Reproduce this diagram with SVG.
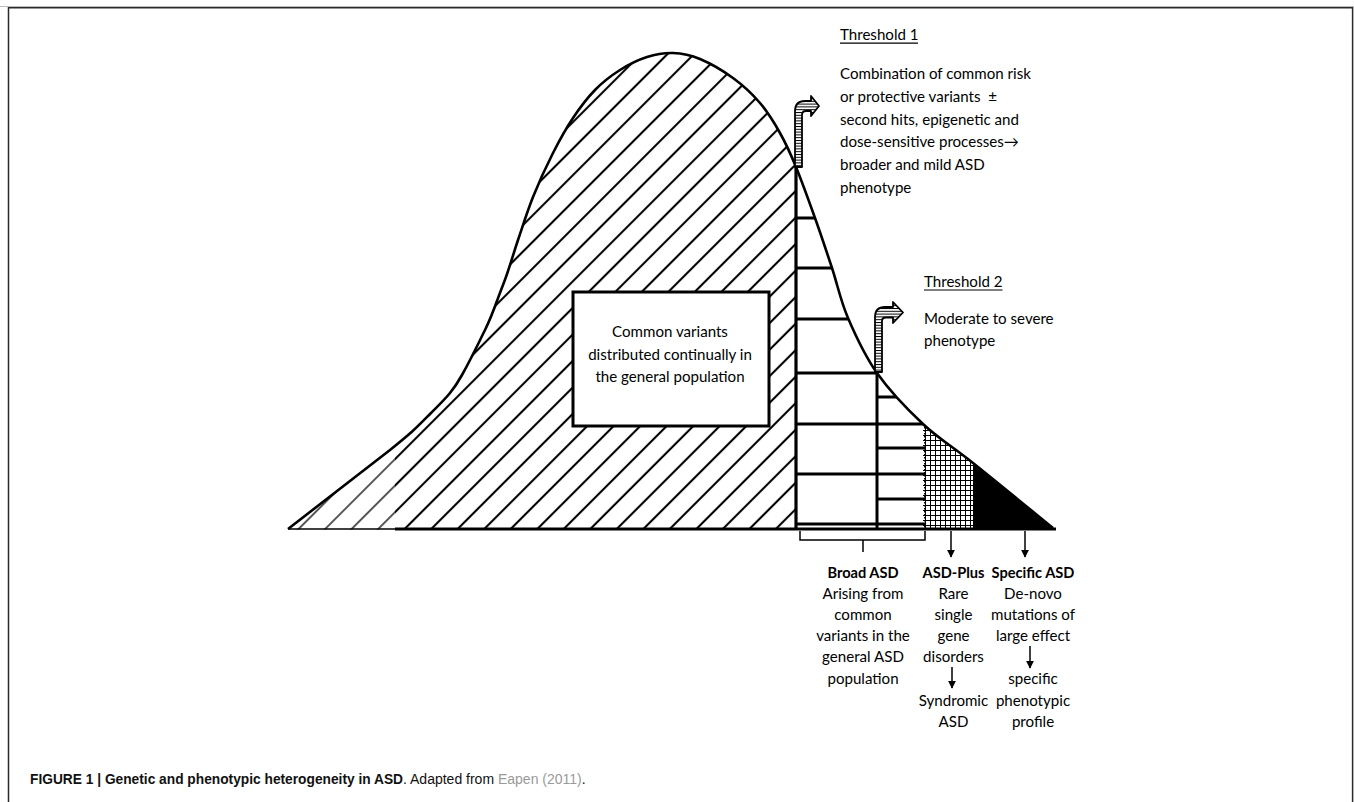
<svg xmlns="http://www.w3.org/2000/svg" width="1354" height="802" viewBox="0 0 1354 802">
<style>
.t{font-family:Lato,"Open Sans","DejaVu Sans",sans-serif;font-size:15.1px;fill:#000}
.m{text-anchor:middle}
.b{font-weight:bold;font-size:14.6px}
.ln{stroke:#000;fill:none}
.cap{font-family:"Liberation Sans",Arial,sans-serif;font-size:14px;fill:#111}
</style>
<defs>
<pattern id="hatch" patternUnits="userSpaceOnUse" width="18.75" height="18.75" patternTransform="rotate(45)">
<rect x="2.9" y="-1" width="2.1" height="21" fill="#000"/>
</pattern>
<pattern id="hatchThin" patternUnits="userSpaceOnUse" width="18.75" height="18.75" patternTransform="rotate(45)">
<rect x="3.3" y="-1" width="1.3" height="21" fill="#000"/>
</pattern>
<pattern id="grid" patternUnits="userSpaceOnUse" x="925" y="0" width="5" height="5">
<path d="M0,0.5H5M0.5,0V5" stroke="#000" stroke-width="1"/>
</pattern>
<pattern id="stripes" patternUnits="userSpaceOnUse" width="10" height="2.8">
<rect x="0" y="0" width="10" height="2.8" fill="#fff"/>
<rect x="0" y="0" width="10" height="1" fill="#000"/>
</pattern>
<clipPath id="under">
<path d="M288,529 L390,450 C413.2,431.3 415.5,428.7 430,414 C444.5,399.3 452.2,392.7 462,375 C471.8,357.3 476.8,346.5 485,330 C493.2,313.5 496.8,300.5 503,285 C509.2,269.5 513,254.7 518,240 C523,225.3 527.2,211.5 533,197 C538.8,182.5 546.3,166.2 553,153 C559.7,139.8 566,128.5 573,118 C580,107.5 587.2,98 595,90 C602.8,82 611.3,75.5 620,70 C628.7,64.5 638.2,59.8 647,57 C655.8,54.2 664.2,52.7 673,53 C681.8,53.3 690,54.8 700,59 C710,63.2 723,70.7 733,78 C743,85.3 752.2,93.8 760,103 C767.8,112.2 774,122.3 780,133 C786,143.7 790.2,152.8 796,167 C801.8,181.2 809,201.2 815,218 C821,234.8 826.5,251.3 832,268 C837.5,284.7 840.5,300.5 848,318 C855.5,335.5 864.5,355.3 877,373 C889.5,390.7 907,409 923,424 C939,439 951.3,445.7 973,463 C994.7,480.3 1039.7,517.2 1053,528 L1056,529.5 L288,529.5 Z"/>
</clipPath>
<marker id="ah" viewBox="0 0 10 10" refX="9" refY="5" markerWidth="8" markerHeight="8" markerUnits="userSpaceOnUse" orient="auto">
<path d="M0,0 L10,5 L0,10 Z" fill="#000"/>
</marker>
</defs>
<rect width="1354" height="802" fill="#fff"/>
<g id="frame">
<line x1="0" y1="6.5" x2="1354" y2="6.5" stroke="#bdbdbd" stroke-width="1"/>
<path d="M8.5,802 V7.8 H1352.6 V802" fill="none" stroke="#2a2a2a" stroke-width="1.5"/>
</g>
<g id="distribution">
<g clip-path="url(#under)">
<rect x="280" y="40" width="115" height="500" fill="url(#hatchThin)"/>
<rect x="395" y="40" width="401" height="500" fill="url(#hatch)"/>
<rect x="923" y="400" width="50" height="140" fill="url(#grid)"/>
<rect x="973" y="440" width="90" height="100" fill="#000"/>
<g class="ln" stroke-width="2.8">
<path d="M796,218H840M796,268H850M796,319H870M796,373H877M796,424H925M796,474H925M796,524H925"/>
<path d="M877,397H925M877,448H925M877,499H925"/>
</g>
</g>
<path class="ln" stroke-width="2.6" stroke-linejoin="round" d="M288,529 L390,450 C413.2,431.3 415.5,428.7 430,414 C444.5,399.3 452.2,392.7 462,375 C471.8,357.3 476.8,346.5 485,330 C493.2,313.5 496.8,300.5 503,285 C509.2,269.5 513,254.7 518,240 C523,225.3 527.2,211.5 533,197 C538.8,182.5 546.3,166.2 553,153 C559.7,139.8 566,128.5 573,118 C580,107.5 587.2,98 595,90 C602.8,82 611.3,75.5 620,70 C628.7,64.5 638.2,59.8 647,57 C655.8,54.2 664.2,52.7 673,53 C681.8,53.3 690,54.8 700,59 C710,63.2 723,70.7 733,78 C743,85.3 752.2,93.8 760,103 C767.8,112.2 774,122.3 780,133 C786,143.7 790.2,152.8 796,167 C801.8,181.2 809,201.2 815,218 C821,234.8 826.5,251.3 832,268 C837.5,284.7 840.5,300.5 848,318 C855.5,335.5 864.5,355.3 877,373 C889.5,390.7 907,409 923,424 C939,439 951.3,445.7 973,463 C994.7,480.3 1039.7,517.2 1053,528"/>
<line x1="288" y1="529" x2="395" y2="529" stroke="#000" stroke-width="1.6"/>
<line x1="395" y1="529" x2="1056" y2="529" stroke="#000" stroke-width="3"/>
<line x1="796" y1="167" x2="796" y2="530" stroke="#000" stroke-width="3.2"/>
<line x1="877" y1="372" x2="877" y2="530" stroke="#000" stroke-width="3"/>
<line x1="924.5" y1="424" x2="924.5" y2="529" stroke="#000" stroke-width="1" stroke-dasharray="1.5,1.5"/>
</g>
<g id="box-common">
<rect x="573" y="292" width="196" height="134" fill="#fff" stroke="#000" stroke-width="3"/>
<text class="t m" x="670" y="337">Common variants</text>
<text class="t m" x="670" y="360">distributed continually in</text>
<text class="t m" x="670" y="382">the general population</text>
</g>
<g id="threshold1">
<path d="M795,167 V111 Q795,101 805,101 H811 V96 L819,106 L811,116 V111 H806 Q802,111 802,115 V167 Z" fill="url(#stripes)" stroke="#000" stroke-width="1.8" stroke-linejoin="round"/>
<text class="t" x="840" y="40">Threshold 1</text>
<line x1="840" y1="43.2" x2="918" y2="43.2" stroke="#000" stroke-width="1.2"/>
<text class="t" x="840" y="79">Combination of common risk</text>
<text class="t" x="840" y="102">or protective variants&#160; ±</text>
<text class="t" x="840" y="124.5">second hits, epigenetic and</text>
<text class="t" x="840" y="147">dose-sensitive processes→</text>
<text class="t" x="840" y="170">broader and mild ASD</text>
<text class="t" x="840" y="192.5">phenotype</text>
</g>
<g id="threshold2">
<path d="M875,372 V317 Q875,307 885,307 H893 V302 L903,312.5 L893,323 V317.5 H886 Q882,317.5 882,321 V372 Z" fill="url(#stripes)" stroke="#000" stroke-width="1.8" stroke-linejoin="round"/>
<text class="t" x="924" y="286.5">Threshold 2</text>
<line x1="924" y1="290" x2="1002.5" y2="290" stroke="#000" stroke-width="1.2"/>
<text class="t" x="924" y="324">Moderate to severe</text>
<text class="t" x="924" y="345.5">phenotype</text>
</g>
<g id="connectors" stroke="#000" fill="none" stroke-width="1.5">
<path d="M800,531 V540 H925 V531 M863,540 V552"/>
<line x1="951" y1="531" x2="951" y2="557" marker-end="url(#ah)"/>
<line x1="1025" y1="531" x2="1025" y2="557" marker-end="url(#ah)"/>
<line x1="952" y1="667" x2="952" y2="688" marker-end="url(#ah)"/>
<line x1="1030" y1="646" x2="1030" y2="668" marker-end="url(#ah)"/>
</g>
<g id="label-broad">
<text class="t m b" x="863" y="577.5">Broad ASD</text>
<text class="t m" x="863" y="598.7">Arising from</text>
<text class="t m" x="863" y="619.9">common</text>
<text class="t m" x="863" y="641.1">variants in the</text>
<text class="t m" x="863" y="662.3">general ASD</text>
<text class="t m" x="863" y="683.5">population</text>
</g>
<g id="label-plus">
<text class="t m b" x="953.5" y="577.5">ASD-Plus</text>
<text class="t m" x="953.5" y="598.7">Rare</text>
<text class="t m" x="953.5" y="619.9">single</text>
<text class="t m" x="953.5" y="641.1">gene</text>
<text class="t m" x="953.5" y="662.3">disorders</text>
<text class="t m" x="953.5" y="705.5">Syndromic</text>
<text class="t m" x="953.5" y="726.5">ASD</text>
</g>
<g id="label-specific">
<text class="t m b" x="1033" y="577.5">Specific ASD</text>
<text class="t m" x="1033" y="598.7">De-novo</text>
<text class="t m" x="1033" y="619.9">mutations of</text>
<text class="t m" x="1033" y="641.1">large effect</text>
<text class="t m" x="1033" y="684">specific</text>
<text class="t m" x="1033" y="705.5">phenotypic</text>
<text class="t m" x="1033" y="726.5">profile</text>
</g>
<g id="caption">
<text class="cap" x="30" y="784" font-weight="bold" textLength="373" lengthAdjust="spacingAndGlyphs">FIGURE 1 | Genetic and phenotypic heterogeneity in ASD</text>
<text class="cap" x="403" y="784" font-size="14.5">. Adapted from <tspan fill="#9a9a9a">Eapen (2011)</tspan>.</text>
</g>
</svg>
